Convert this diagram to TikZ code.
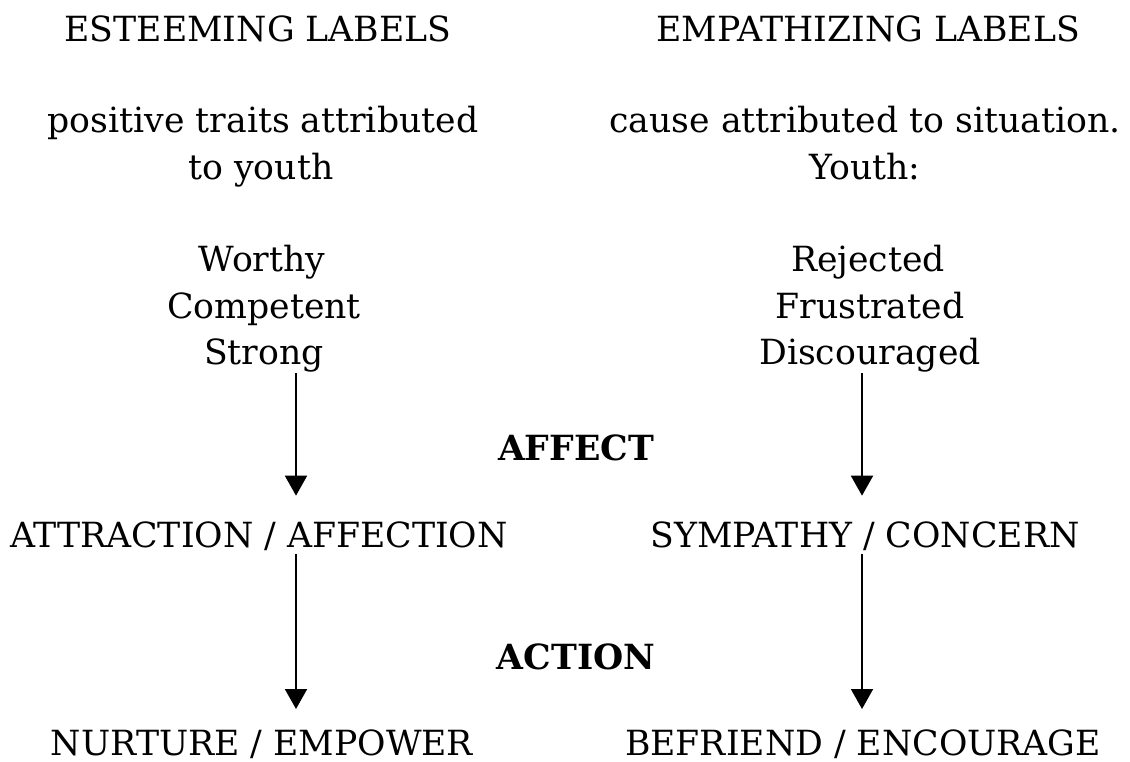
\documentclass[tikz,border=0pt]{standalone}
\usepackage{fontspec}
\setmainfont{DejaVu Serif}
\usetikzlibrary{arrows.meta}
\begin{document}
\begin{tikzpicture}[x=0.75pt,y=-0.75pt,
  txt/.style={anchor=base,inner sep=0pt,font=\fontsize{26}{30}\selectfont},
  hd/.style={anchor=base,inner sep=0pt,font=\fontsize{26}{30}\selectfont\bfseries},
  arr/.style={line width=1.4pt,-{Triangle[width=16.5pt,length=15pt]}}]
\useasboundingbox (0,0) rectangle (1130,762);
% left column
\node[txt] (l1) at (258,42) {ESTEEMING LABELS};
\node[txt] (l2) at (263,133) {positive traits attributed};
\node[txt] (l3) at (261,180) {to youth};
\node[txt] (l4) at (262,272) {Worthy};
\node[txt] (l5) at (264,319) {Competent};
\node[txt] (l6) at (264,365) {Strong};
% right column
\node[txt] (r1) at (868,42) {EMPATHIZING LABELS};
\node[txt] (r2) at (865,133) {cause attributed to situation.};
\node[txt] (r3) at (865,180) {Youth:};
\node[txt] (r4) at (868,272) {Rejected};
\node[txt] (r5) at (870,319) {Frustrated};
\node[txt] (r6) at (870,365) {Discouraged};
% middle labels
\node[hd] (affect) at (576,460) {AFFECT};
\node[hd] (action) at (576,669) {ACTION};
% outcomes
\node[txt] (attr) at (259,547) {ATTRACTION / AFFECTION};
\node[txt] (symp) at (865,547) {SYMPATHY / CONCERN};
\node[txt] (nurt) at (262,755) {NURTURE / EMPOWER};
\node[txt] (befr) at (863,755) {BEFRIEND / ENCOURAGE};
% arrow axes
\coordinate (la) at (296,0);
\coordinate (ra) at (862,0);
\draw[arr,shorten >=19pt] (l6.south -| la) -- (attr.north -| la);
\draw[arr,shorten >=19pt] (r6.south -| ra) -- (symp.north -| ra);
\draw[arr,shorten <=3pt,shorten >=15pt] (attr.south -| la) -- (nurt.north -| la);
\draw[arr,shorten <=3pt,shorten >=15pt] (symp.south -| ra) -- (befr.north -| ra);
\end{tikzpicture}
\end{document}
